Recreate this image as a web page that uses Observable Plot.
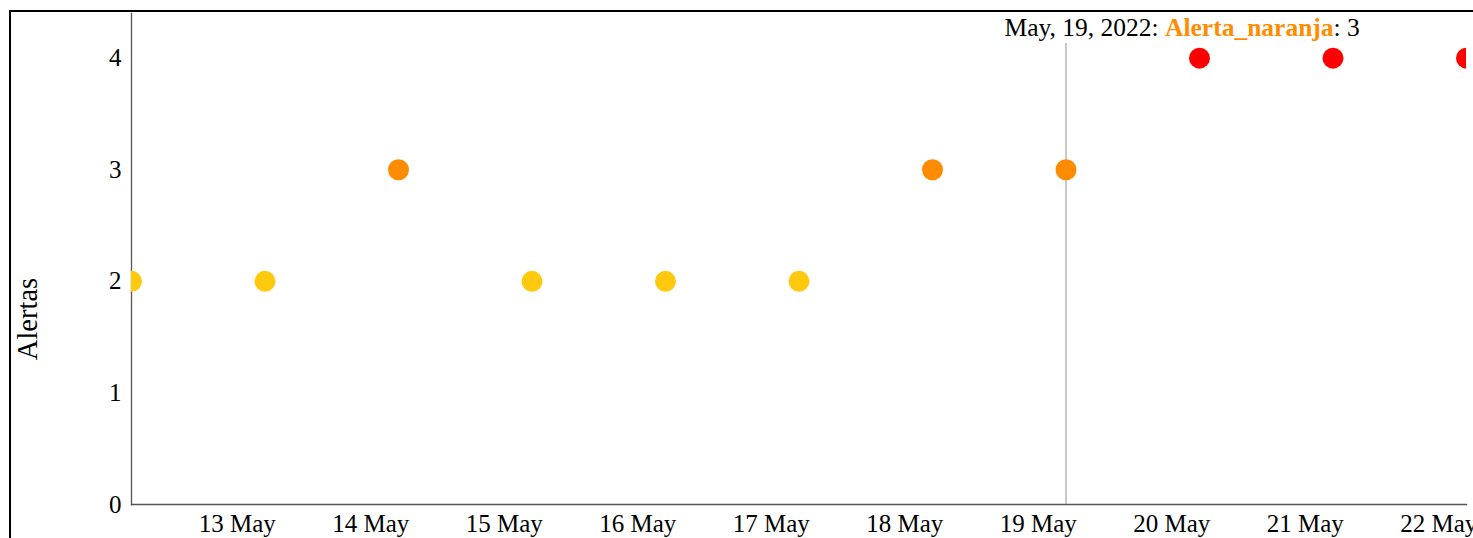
<!DOCTYPE html>
<html>
<head>
<meta charset="utf-8">
<script src="https://cdn.jsdelivr.net/npm/d3@7"></script>
<script src="https://cdn.jsdelivr.net/npm/@observablehq/plot@0.6"></script>
<style>
  html, body { margin: 0; padding: 0; background: #fff; overflow: hidden; }
  #wrap { position: relative; width: 1473px; height: 538px; overflow: hidden; }
  #border { position: absolute; left: 9px; top: 10px; width: 1600px; height: 700px;
            border-left: 2px solid #000; border-top: 2px solid #000; pointer-events: none; }
  #chart { position: absolute; left: 0; top: 0; }
</style>
</head>
<body>
<div id="wrap">
  <div id="chart"></div>
  <div id="border"></div>
</div>
<script>
// Data
const dates = ["2022-05-12T05:00Z","2022-05-13T05:00Z","2022-05-14T05:00Z","2022-05-15T05:00Z",
               "2022-05-16T05:00Z","2022-05-17T05:00Z","2022-05-18T05:00Z","2022-05-19T05:00Z",
               "2022-05-20T05:00Z","2022-05-21T05:00Z","2022-05-22T05:00Z"];
const alertas = [2, 2, 3, 2, 2, 2, 3, 3, 4, 4, 4];
const niveles = ["Alerta_amarilla","Alerta_amarilla","Alerta_naranja","Alerta_amarilla",
                 "Alerta_amarilla","Alerta_amarilla","Alerta_naranja","Alerta_naranja",
                 "Alerta_roja","Alerta_roja","Alerta_roja"];
const nivelNombres = ["Alerta_amarilla","Alerta_naranja","Alerta_roja"];
const nivelColores = ["#ffc90e","#ff8c00","#ff0000"];
const yTicks = [0, 1, 2, 3, 4];
const yLabel = "Alertas";
const hoverDate = "2022-05-19T05:00Z";
const hoverText = ["May, 19, 2022: ", "Alerta_naranja", ": 3"];

const data = dates.map((d, i) => ({date: new Date(d), value: alertas[i], nivel: niveles[i]}));
const xDomain = [new Date(dates[0]), new Date(dates[dates.length - 1])];
const font = "'Liberation Serif', 'Times New Roman', serif";

const plot = Plot.plot({
  width: 1473,
  height: 538,
  marginLeft: 131,
  marginRight: 7,
  marginTop: 13,
  marginBottom: 34,
  style: {fontFamily: font, fontSize: "25px", color: "#000", background: "transparent"},
  x: {type: "utc", domain: xDomain},
  y: {domain: [0, 4.4]},
  color: {domain: nivelNombres, range: nivelColores},
  marks: [
    Plot.axisY({ticks: yTicks, tickFormat: d3.format("d"), tickSize: 0, tickPadding: 10,
                label: null, fontSize: 25}),
    Plot.axisX({ticks: d3.utcDay.every(1), tickFormat: d3.utcFormat("%-d %b"), tickSize: 0,
                tickPadding: 10, label: null, fontSize: 25}),
    Plot.ruleX([new Date(hoverDate)], {stroke: "#c8c8c8", strokeWidth: 2, insetTop: 30}),
    Plot.frame({anchor: "left", stroke: "#555", strokeWidth: 1.3}),
    Plot.frame({anchor: "bottom", stroke: "#555", strokeWidth: 1.3}),
    Plot.dot(data, {x: "date", y: "value", fill: "nivel", r: 10.5, clip: true}),
    Plot.text([yLabel], {frameAnchor: "left", textAnchor: "middle", text: d => d, rotate: -90,
                         dx: -104, dy: 60, fontSize: 28.5, fill: "#000"})
  ]
});
document.getElementById("chart").appendChild(plot);

// Tooltip text at the hovered date
const xs = plot.scale("x");
const hx = xs.apply(new Date(hoverDate));
const t = d3.select(plot).append("text")
  .attr("x", hx - 61).attr("y", 36)
  .attr("text-anchor", "start")
  .style("font-family", font).style("font-size", "25.5px");
t.append("tspan").attr("fill", "#000").text(hoverText[0]);
t.append("tspan").attr("fill", nivelColores[1]).attr("font-weight", "bold").text(hoverText[1]);
t.append("tspan").attr("fill", "#000").text(hoverText[2]);
</script>
</body>
</html>
